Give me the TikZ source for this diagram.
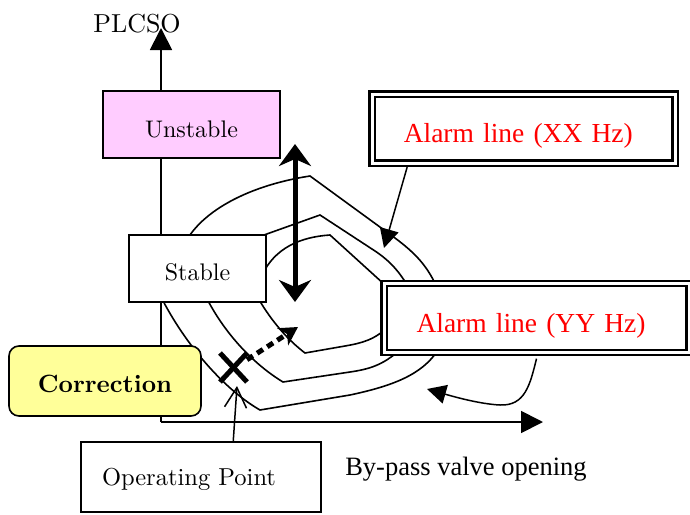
\documentclass[tikz,border=0pt]{standalone}
\usepackage{fontspec}
\usetikzlibrary{arrows.meta,calc,positioning,shapes.misc}
\newfontfamily\timesf{Liberation Serif}
\newfontfamily\centf{lmroman10-regular.otf}[BoldFont=lmroman10-bold.otf]
\definecolor{unst}{HTML}{FFCCFF}
\definecolor{corr}{HTML}{FFFF99}

\begin{document}
\begin{tikzpicture}[x=1pt,y=-1pt,line width=1.6pt,
box/.style={draw,fill=white,inner sep=0pt,text depth=0pt,font=\centf\fontsize{24}{28}\selectfont},
alarm/.style={draw,double,double distance=3pt,line width=2.3pt,fill=white,inner sep=0pt,
  minimum width=303pt,minimum height=69pt,text width=240pt,align=left,text depth=0pt,
  text=red,font=\timesf\fontsize{27.5}{30}\selectfont},
axis/.style={line width=1.8pt,-{Triangle[length=22pt,width=22pt]}},
pointer/.style={line width=1.5pt,-{Triangle[length=19pt,width=19pt]}}]
\useasboundingbox (0,0) rectangle (690,514);
\coordinate (o) at (161,422);
\coordinate (ytip) at (161,28);
\coordinate (xtip) at (543,422);
\node[font=\centf\fontsize{26}{30}\selectfont,anchor=base] (plcso) at (137,32) {PLCSO};
\node[font=\timesf\fontsize{26.5}{30}\selectfont,anchor=base] (bypass) at (466,475) {By-pass valve opening};
\draw[axis] (o) -- (ytip);
\draw[axis] (o) -- (xtip);
% loops
\draw (180,255) .. controls (192,215) and (245,186) .. (310,176) -- (395,238)
  .. controls (415,253) and (428,266) .. (438,290) -- (438,350)
  .. controls (422,375) and (392,386) .. (350,395) -- (260,410)
  .. controls (225,390) and (185,345) .. (160,295);
\draw (250,240) -- (320,215) -- (375,251) .. controls (390,261) and (400,272) .. (410,290)
  -- (405,345) .. controls (385,365) and (370,369) .. (350,372) -- (283,382)
  .. controls (255,365) and (225,335) .. (205,295);
\draw (262,275) .. controls (275,248) and (300,237) .. (330,235) -- (385,285) -- (390,325)
  .. controls (375,340) and (362,343) .. (345,346) -- (305,353)
  .. controls (288,340) and (272,322) .. (258,298);
% boxes
\node[box,fill=unst,minimum width=177pt,minimum height=67pt,text height=25pt] (unstable) at (191.5,124.5) {Unstable};
\node[box,minimum width=137pt,minimum height=67pt,text height=23pt] (stable) at (197.5,268.5) {Stable};
\node[box,fill=corr,rounded corners=10pt,minimum width=192pt,minimum height=70pt,text height=22pt,
  font=\centf\fontsize{25}{28}\selectfont\bfseries] (corr) at (105,381) {Correction};
\node[box,minimum width=240pt,minimum height=70pt,text height=16pt,text width=198pt,align=left,
  font=\centf\fontsize{24.5}{28}\selectfont] (op) at (201,477) {Operating Point};
\node[alarm,text height=27pt] (xx) at (523.75,128.5) {Alarm line (XX Hz)};
\node[alarm,text height=28pt,minimum width=305pt] (yy) at (536.5,318) {Alarm line (YY Hz)};
% arrows
\coordinate (xxtip) at (384,248);
\coordinate (backtip) at (427,389);
\coordinate (amptop) at (295,144);
\coordinate (ampbot) at (295,302);
\coordinate (shifttip) at (298,327);
\coordinate (optip) at (237,386);
\draw[pointer] ($(xx.197.8)+(0,3)$) -- (xxtip);
\draw[pointer] ($(yy.south)+(0,5)$) .. controls (530,385) and (525,406) .. (500,405)
  .. controls (480,404) and (455,397) .. (backtip);
\draw[line width=5pt,{Stealth[length=22pt,width=32pt,inset=7pt]}-{Stealth[length=22pt,width=32pt,inset=7pt]}] (ampbot) -- (amptop);
\node[draw,cross out,line width=5pt,inner sep=0pt,minimum width=22pt,minimum height=24pt] (opx) at (233.5,367.5) {};
\draw[line width=5pt,dash pattern=on 7pt off 5pt,-{Stealth[length=18pt,width=20pt,inset=5pt]}] (opx.30) -- (shifttip);
\draw[line width=1.5pt,-{Straight Barb[length=20pt,width=22pt]}] (op.48) -- (optip);
\end{tikzpicture}
\end{document}
